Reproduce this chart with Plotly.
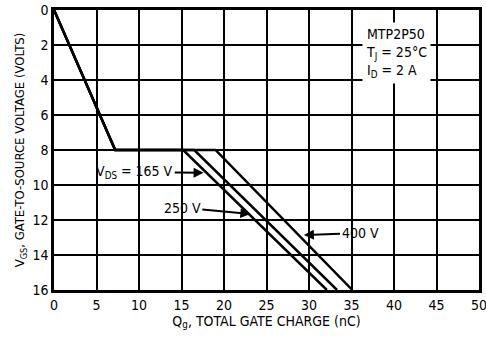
import plotly.graph_objects as go

# Data
vgs = [0, 8, 8, 16]                 # gate-to-source voltage (V)
qg_165 = [0, 7.2, 15.2, 32.1]       # total gate charge (nC), VDS = 165 V
qg_250 = [0, 7.2, 16.5, 33.3]       # VDS = 250 V
qg_400 = [0, 7.2, 19.0, 35.1]       # VDS = 400 V
x_ticks = [0, 5, 10, 15, 20, 25, 30, 35, 40, 45, 50]
y_ticks = [0, 2, 4, 6, 8, 10, 12, 14, 16]

FONT = "DejaVu Sans Condensed, Liberation Sans Narrow, sans-serif"

fig = go.Figure()
for qg in (qg_165, qg_250, qg_400):
    fig.add_trace(go.Scatter(x=qg, y=vgs, mode="lines",
                             line=dict(color="black", width=2.5),
                             showlegend=False, hoverinfo="skip"))

tickfont = dict(family=FONT, size=14, color="black")

fig.update_xaxes(range=[0, 50], tickmode="array", tickvals=x_ticks,
                 ticktext=[str(v) for v in x_ticks],
                 showgrid=True, gridcolor="#000000", gridwidth=1.5,
                 showline=True, linecolor="black", linewidth=2.5, mirror=True,
                 zeroline=False, tickfont=tickfont, automargin=False,
                 ticklabeloverflow="allow",
                 title=dict(text="Q<sub>g</sub>, TOTAL GATE CHARGE (nC)",
                            font=dict(family=FONT, size=14, color="black"), standoff=4))
fig.update_yaxes(range=[16, 0], tickmode="array", tickvals=y_ticks,
                 ticktext=[str(v) for v in y_ticks],
                 showgrid=True, gridcolor="#000000", gridwidth=1.5,
                 showline=True, linecolor="black", linewidth=2.5, mirror=True,
                 zeroline=False, tickfont=tickfont, automargin=False,
                 ticklabeloverflow="allow",
                 title=dict(text="V<sub>GS</sub>, GATE-TO-SOURCE VOLTAGE (VOLTS)",
                            font=dict(family=FONT, size=13, color="black"), standoff=5))

ann_font = dict(family=FONT, size=14, color="black")
fig.add_annotation(x=17.6, y=9.3, ax=9.5, ay=9.26, axref="x", ayref="y",
                   text="V<sub>DS</sub> = 165 V", showarrow=True, arrowhead=2,
                   arrowsize=1, arrowwidth=2, arrowcolor="black", font=ann_font, standoff=0)
fig.add_annotation(x=23.1, y=11.66, ax=15.1, ay=11.3, axref="x", ayref="y",
                   text="250 V", showarrow=True, arrowhead=2,
                   arrowsize=1, arrowwidth=2, arrowcolor="black", font=ann_font, standoff=0)
fig.add_annotation(x=29.4, y=12.86, ax=36.0, ay=12.74, axref="x", ayref="y",
                   text="400 V", showarrow=True, arrowhead=2,
                   arrowsize=1, arrowwidth=2, arrowcolor="black", font=ann_font, standoff=0)
fig.add_annotation(x=36.2, y=0.7, xanchor="left", yanchor="top", align="left",
                   text="MTP2P50<br>T<sub>J</sub> = 25°C<br>I<sub>D</sub> = 2 A",
                   showarrow=False, bgcolor="white", borderpad=3, font=ann_font)

fig.update_layout(width=486, height=337, margin=dict(l=54, r=7, t=10, b=47),
                  plot_bgcolor="white", paper_bgcolor="white")

fig.write_html("out.html", config={"displayModeBar": False},
               post_script="document.body.style.margin='0';document.body.style.overflow='hidden';")
